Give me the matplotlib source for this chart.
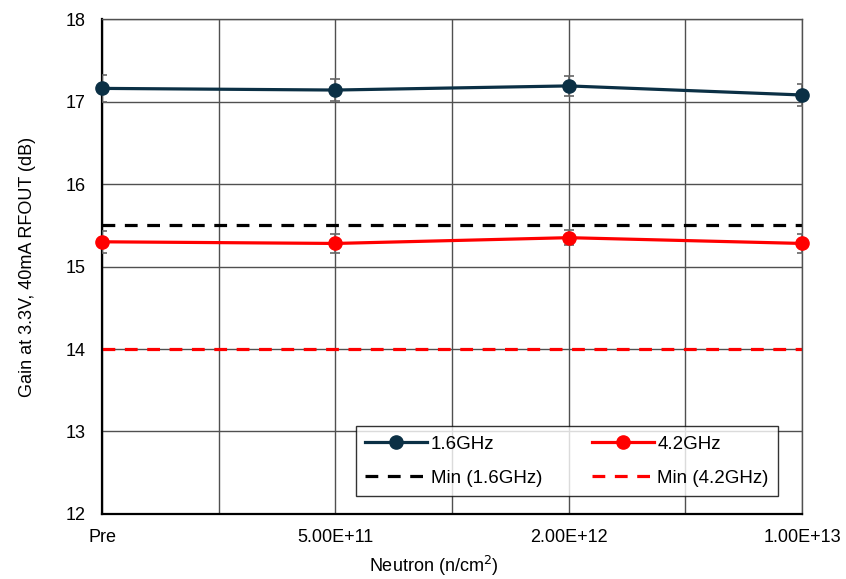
import numpy as np
import matplotlib.pyplot as plt

plt.rcParams['font.family'] = ['Liberation Sans', 'DejaVu Sans']

# data
categories = ['Pre', '5.00E+11', '2.00E+12', '1.00E+13']
gain_16 = [17.16, 17.14, 17.19, 17.08]
err_16 = [0.16, 0.13, 0.12, 0.13]
gain_42 = [15.30, 15.28, 15.35, 15.28]
err_42 = [0.13, 0.11, 0.09, 0.11]
min_16 = 15.5
min_42 = 14.0

navy = '#0b3045'
red = '#ff0000'

fig = plt.figure(figsize=(8.46, 5.79), dpi=100)
ax = fig.add_axes([0.1206, 0.1123, 0.8274, 0.8547])

x = np.arange(len(categories))

ax.errorbar(x, gain_16, yerr=err_16, fmt='none', ecolor='#666666',
            elinewidth=1.2, capsize=3.5, capthick=1.2, zorder=3)
ax.errorbar(x, gain_42, yerr=err_42, fmt='none', ecolor='#666666',
            elinewidth=1.2, capsize=3.5, capthick=1.2, zorder=3)

l16, = ax.plot(x, gain_16, color=navy, lw=2.3, marker='o', ms=9.5,
               label='1.6GHz', zorder=4, clip_on=False)
l42, = ax.plot(x, gain_42, color=red, lw=2.3, marker='o', ms=9.5,
               label='4.2GHz', zorder=4, clip_on=False)
m16, = ax.plot([x[0], x[-1]], [min_16, min_16], color='black', lw=2.3,
               dashes=(4, 3), label='Min (1.6GHz)', zorder=2)
m42, = ax.plot([x[0], x[-1]], [min_42, min_42], color=red, lw=2.3,
               dashes=(4, 3), label='Min (4.2GHz)', zorder=2)

ax.set_xlim(0, 3)
ax.set_ylim(12, 18)
ax.set_yticks(np.arange(12, 19, 1))
ax.set_xticks(x)
ax.set_xticks(x[:-1] + 0.5, minor=True)
ax.set_xticklabels(categories)
ax.grid(True, which='both', color='#505050', lw=1)
ax.set_axisbelow(True)
ax.tick_params(axis='both', which='both', length=0, labelsize=13)
ax.tick_params(axis='x', pad=11)
ax.tick_params(axis='y', pad=12)

for s in ['left', 'bottom']:
    ax.spines[s].set_linewidth(1.6)
    ax.spines[s].set_color('black')
for s in ['top', 'right']:
    ax.spines[s].set_linewidth(1)
    ax.spines[s].set_color('#505050')

ax.set_xlabel('Neutron (n/cm$^2$)', fontsize=13, va='center')
ax.xaxis.set_label_coords(0.474, -0.106)
ax.set_ylabel('Gain at 3.3V, 40mA RFOUT (dB)', fontsize=13, va='center')
ax.yaxis.set_label_coords(-0.107, 0.5)

leg = ax.legend(handles=[l16, m16, l42, m42],
                loc='lower left', bbox_to_anchor=(0.363, 0.036, 0.603, 0.145),
                mode='expand', ncol=2, fontsize=13.5, frameon=True,
                fancybox=False, edgecolor='black', handlelength=3.3,
                handletextpad=0.2, borderaxespad=0, borderpad=0.5,
                labelspacing=0.9)
leg.get_frame().set_linewidth(1)
leg.set_zorder(5)

plt.savefig('out.png', dpi=100)
